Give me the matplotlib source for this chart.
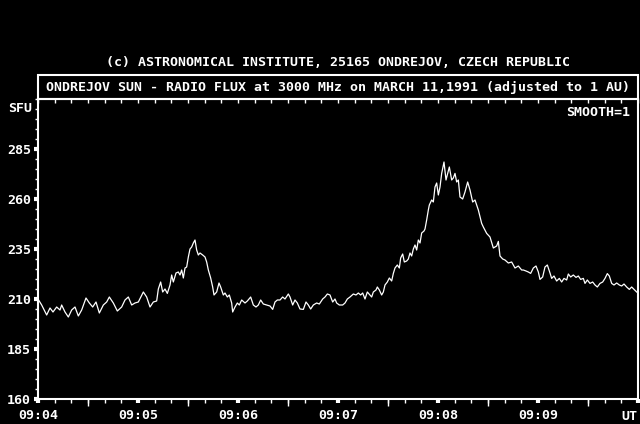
import matplotlib
matplotlib.use('Agg')
import matplotlib.pyplot as plt
from matplotlib.patches import Rectangle

# seconds after 09:04:00 UT
t_sec = [0.0, 2.2, 5.2, 7.2, 9.0, 11.2, 13.2, 14.2, 16.2, 18.2,
         20.2, 22.2, 24.2, 26.2, 28.8, 30.8, 32.8, 34.8, 36.8, 39.2,
         41.2, 42.8, 45.2, 47.6, 50.2, 52.2, 54.2, 56.2, 58.2, 60.2,
         63.2, 65.2, 67.2, 69.2, 71.2, 72.2, 73.6, 74.8, 76.2, 77.6,
         79.2, 80.2, 81.2, 82.8, 84.2, 85.2, 86.2, 87.2, 88.2, 89.2,
         90.2, 91.2, 92.2, 93.2, 94.2, 95.2, 96.2, 97.2, 98.8, 100.2,
         101.2, 102.2, 103.6, 104.8, 105.6, 107.2, 108.6, 109.6, 111.2, 112.2,
         113.6, 114.8, 116.2, 116.8, 118.2, 119.6, 120.8, 122.2, 124.2, 125.6,
         127.6, 129.2, 130.8, 132.2, 133.6, 135.2, 137.2, 139.2, 140.8, 142.2,
         143.6, 145.2, 146.8, 148.2, 150.2, 151.2, 152.8, 154.2, 155.6, 157.2,
         159.2, 160.8, 162.2, 163.6, 165.2, 167.2, 168.8, 170.8, 172.2, 173.6,
         175.2, 176.8, 178.2, 179.2, 180.8, 182.8, 184.2, 185.6, 187.2, 189.2,
         190.8, 192.2, 193.6, 194.8, 196.2, 197.6, 199.2, 200.2, 201.2, 202.8,
         203.6, 204.8, 206.2, 207.2, 208.2, 209.6, 210.8, 212.2, 213.2, 214.2,
         215.6, 216.8, 217.6, 218.8, 219.8, 221.2, 222.2, 223.2, 224.2, 225.2,
         226.2, 227.2, 228.2, 229.2, 230.2, 231.6, 232.2, 233.2, 234.2, 234.8,
         236.2, 237.2, 238.2, 239.2, 240.2, 241.2, 242.2, 243.6, 244.8, 245.8,
         246.8, 248.2, 249.2, 250.2, 251.2, 252.2, 253.2, 254.8, 256.2, 257.8,
         259.2, 260.8, 262.2, 264.2, 266.2, 267.2, 269.2, 271.2, 273.2, 275.2,
         276.2, 277.2, 278.8, 280.2, 282.2, 284.2, 286.2, 288.2, 290.2, 291.2,
         292.8, 294.2, 295.6, 297.2, 298.8, 300.2, 301.2, 302.8, 304.2, 305.6,
         307.2, 308.2, 309.6, 311.2, 312.8, 314.2, 315.6, 317.2, 318.2, 319.6,
         321.2, 322.8, 324.2, 325.6, 327.2, 328.2, 329.6, 331.2, 332.8, 334.2,
         335.6, 337.2, 338.8, 340.2, 341.6, 342.8, 344.2, 345.6, 347.2, 348.8,
         350.2, 351.6, 353.2, 354.8, 356.2, 357.6, 359.2]

flux = [210, 207, 202, 205.5, 203.5, 206, 204.5, 207, 203.5, 201,
        204.5, 206, 201.5, 204.5, 210.5, 208, 206, 208.5, 203, 207,
        208.5, 211, 208, 204, 206, 209.5, 211, 207, 208, 208.5,
        213.5, 211, 206, 208.5, 209, 215, 218.5, 213.5, 215, 212.8,
        217, 222, 218.5, 223, 223.5, 222, 224.5, 220.5, 225.5, 226,
        231, 235, 236, 238, 239.5, 234.5, 232, 233, 232, 231,
        228.5, 224.5, 220.5, 216, 212, 213.5, 218, 216, 212, 213,
        211, 212, 208, 203.5, 206, 208, 207, 209.5, 208, 209,
        211, 207, 206, 207, 209.5, 207.5, 207, 206.5, 204.8, 208.5,
        209.5, 209.5, 211, 210, 212.5, 211, 207, 209.5, 208, 205,
        204.8, 208.5, 207, 205, 207, 208, 207.5, 210, 211, 212.5,
        212, 208.5, 210, 208, 207, 207, 208, 210, 211, 212.5,
        212, 213, 212, 213, 210, 213.5, 212, 211, 213.5, 214.5,
        216, 214.5, 212, 213.5, 217, 218.5, 220.5, 219, 222.8, 225.5,
        227, 225.5, 230.5, 232.5, 228.5, 229, 230, 233, 231.5, 235,
        237, 234.5, 239.5, 238, 243, 244, 245, 249.5, 254.5, 257,
        259.5, 258.5, 266, 268, 262, 266, 272.8, 278.5, 269.5, 272.8,
        276, 269.5, 270.5, 272.8, 268.5, 269.5, 261, 260, 263.5, 268.5,
        264.5, 258.5, 259.5, 254.5, 247.8, 246, 242.8, 241, 235.5, 236.5,
        238.8, 231.5, 230, 229.5, 228, 228.5, 225.5, 226.5, 224.5, 224.5,
        224, 223.5, 222.8, 225.5, 226.5, 223.5, 219.8, 221, 226, 227,
        223, 220.3, 221.5, 219, 220.3, 218.5, 220.3, 219.5, 222.5, 221,
        222, 220.8, 221.5, 219.8, 220.3, 217.8, 219.5, 217.8, 218.5, 217,
        216, 217.8, 218.5, 220.3, 222.7, 221.5, 217.8, 217, 218, 217,
        216.5, 217.5, 216, 214.8, 216, 214.8, 213.5]

minute_ticks = [0, 60, 120, 180, 240, 300, 360]
minute_labels = ['09:04', '09:05', '09:06', '09:07', '09:08', '09:09', '']
flux_ticks = [160, 185, 210, 235, 260, 285]

W, H = 640, 424
fnt = dict(family='DejaVu Sans Mono', weight='bold', size=9.5, color='white')

fig = plt.figure(figsize=(6.4, 4.24), dpi=100, facecolor='black')
ax = fig.add_axes([38 / W, 25 / H, 600 / W, 300 / H])
ax.set_facecolor('black')

ax.plot(t_sec, flux, color='white', lw=0.9)

ax.set_xlim(0, 360)
ax.set_ylim(160, 310)

for s in ax.spines.values():
    s.set_color('white')
    s.set_linewidth(1.5)

ax.set_xticks(minute_ticks)
ax.set_xticklabels(minute_labels)
ax.set_xticks(range(0, 361, 10), minor=True)
ax.set_yticks(flux_ticks)
ax.set_yticks(range(160, 311, 5), minor=True)
ax.tick_params(which='major', direction='out', length=3, width=3,
               color='white', labelcolor='white', pad=3)
ax.tick_params(which='minor', direction='out', length=3, width=1,
               color='white')
ax.tick_params(axis='y', which='minor', length=2)
for lab in ax.get_xticklabels() + ax.get_yticklabels():
    lab.set_fontproperties(fnt['family'])
    lab.set_fontweight('bold')
    lab.set_fontsize(fnt['size'])
ax.tick_params(axis='x', pad=4)
ax.tick_params(axis='y', pad=2)

# longer half-minute marks
half = ax.secondary_xaxis('bottom')
half.set_xticks([30, 90, 150, 210, 270, 330])
half.set_xticklabels([])
half.tick_params(direction='out', length=5, width=1, color='white')
half.spines['bottom'].set_visible(False)

# top ticks point into the plot
top = ax.secondary_xaxis('top')
top.set_xticks(range(0, 361, 10))
top.set_xticklabels([])
top.tick_params(direction='in', length=3, width=1, color='white')
top.spines['top'].set_visible(False)

# title box
fig.patches.append(Rectangle((38 / W, (H - 99) / H), 600 / W, 24 / H,
                             transform=fig.transFigure, fill=False,
                             edgecolor='white', lw=1.5))

fig.text(337.5 / W, (H - 63) / H,
         '(c) ASTRONOMICAL INSTITUTE, 25165 ONDREJOV, CZECH REPUBLIC',
         ha='center', va='center', **fnt)
fig.text(337.5 / W, (H - 87) / H,
         'ONDREJOV SUN - RADIO FLUX at 3000 MHz on MARCH 11,1991 (adjusted to 1 AU)',
         ha='center', va='center', **fnt)
fig.text(20 / W, (H - 108) / H, 'SFU', ha='center', va='center', **fnt)
fig.text(630 / W, (H - 113) / H, 'SMOOTH=1', ha='right', va='center', **fnt)
fig.text(637 / W, (H - 416) / H, 'UT', ha='right', va='center', **fnt)

fig.savefig('out.png', dpi=100, facecolor='black')
